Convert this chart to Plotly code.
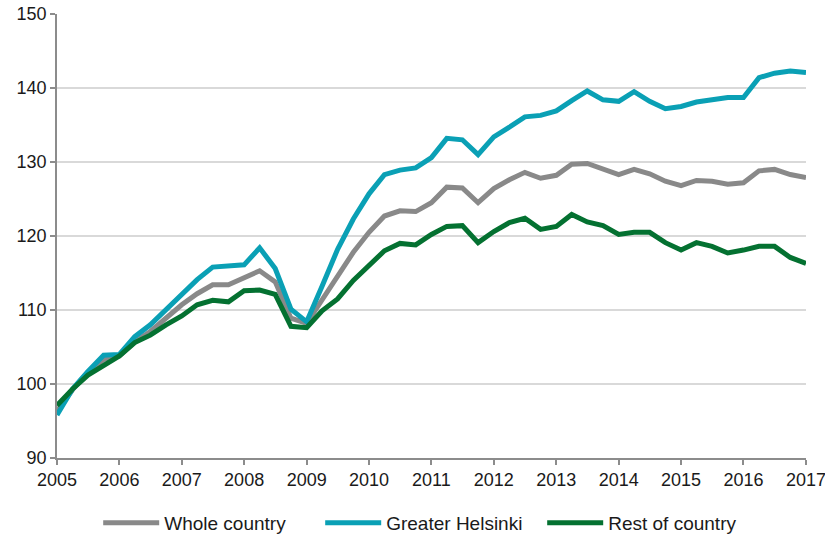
import pandas as pd
import plotly.graph_objects as go

# -------- DATA (quarterly index, 2005Q1 = first point) --------
quarters = pd.date_range("2005-01-01", periods=49, freq="QS")

whole_country = [
    96.3, 99.2, 101.6, 103.3, 103.8, 105.7, 107.1, 108.9,
    110.7, 112.2, 113.4, 113.4, 114.3, 115.3, 113.8, 108.9,
    108.2, 111.3, 114.4, 117.8, 120.5, 122.7, 123.4, 123.3,
    124.5, 126.6, 126.5, 124.5, 126.4, 127.6, 128.6, 127.8,
    128.2, 129.7, 129.8, 129.0, 128.3, 129.0, 128.4, 127.4,
    126.8, 127.5, 127.4, 127.0, 127.2, 128.8, 129.0, 128.3,
    127.9,
]
greater_helsinki = [
    95.8, 99.3, 101.7, 103.9, 104.0, 106.4, 108.0, 110.1,
    112.2, 114.1, 115.8, 116.0, 116.1, 118.4, 115.6, 110.1,
    108.4, 113.2, 118.2, 122.3, 125.7, 128.3, 128.9, 129.2,
    130.6, 133.2, 133.0, 131.0, 133.4, 134.7, 136.1, 136.3,
    136.9, 138.3, 139.6, 138.4, 138.2, 139.5, 138.2, 137.2,
    137.5, 138.1, 138.4, 138.7, 138.7, 141.4, 142.0, 142.3,
    142.1,
]
rest_of_country = [
    97.1, 99.3, 101.2, 102.6, 103.8, 105.6, 106.6, 108.0,
    109.2, 110.7, 111.3, 111.1, 112.6, 112.7, 112.1, 107.8,
    107.6, 109.9, 111.5, 114.0, 116.0, 118.0, 119.0, 118.8,
    120.2, 121.3, 121.4, 119.1, 120.6, 121.8, 122.4, 120.9,
    121.3, 122.9, 121.9, 121.4, 120.2, 120.5, 120.5, 119.1,
    118.1, 119.1, 118.6, 117.7, 118.1, 118.6, 118.6, 117.1,
    116.3,
]

series = [
    ("Whole country", whole_country, "#898989"),
    ("Greater Helsinki", greater_helsinki, "#0aa0b5"),
    ("Rest of country", rest_of_country, "#047131"),
]

# -------- FIGURE --------
fig = go.Figure()
for name, values, color in series:
    fig.add_trace(go.Scatter(
        x=quarters, y=values, name=name, mode="lines",
        line=dict(color=color, width=5),
    ))

axis_grey = "#8c8c8c"
fig.update_layout(
    width=825, height=536,
    margin=dict(l=57, r=19, t=14, b=78, autoexpand=False),
    plot_bgcolor="white", paper_bgcolor="white",
    font=dict(family="Liberation Sans, Arial, sans-serif", size=18, color="#1a1a1a"),
    showlegend=True,
    legend=dict(
        orientation="h", x=0.055, xanchor="left", y=-0.146, yanchor="middle",
        font=dict(size=19), itemwidth=56, tracegroupgap=0,
        entrywidth=151, entrywidthmode="pixels",
    ),
    xaxis=dict(
        type="date", automargin=False, ticklabeloverflow="allow",
        range=["2005-01-01", "2017-01-01"],
        dtick="M12", tickformat="%Y", tick0="2005-01-01",
        showgrid=False, showline=True, linecolor=axis_grey, linewidth=1.5,
        ticks="outside", ticklen=5, tickcolor=axis_grey, tickwidth=1.5,
        zeroline=False,
    ),
    yaxis=dict(
        range=[90, 150], dtick=10, automargin=False, ticklabeloverflow="allow",
        showgrid=True, gridcolor="#d9d9d9", gridwidth=1.5,
        showline=True, linecolor=axis_grey, linewidth=1.5,
        ticks="outside", ticklen=5, tickcolor=axis_grey, tickwidth=1.5,
        zeroline=False,
    ),
)

# the page body has a default 8px margin; drop it so the chart sits at 0,0
fig.write_html("out.html", config={"displayModeBar": False},
               post_script="document.body.style.margin='0';")
